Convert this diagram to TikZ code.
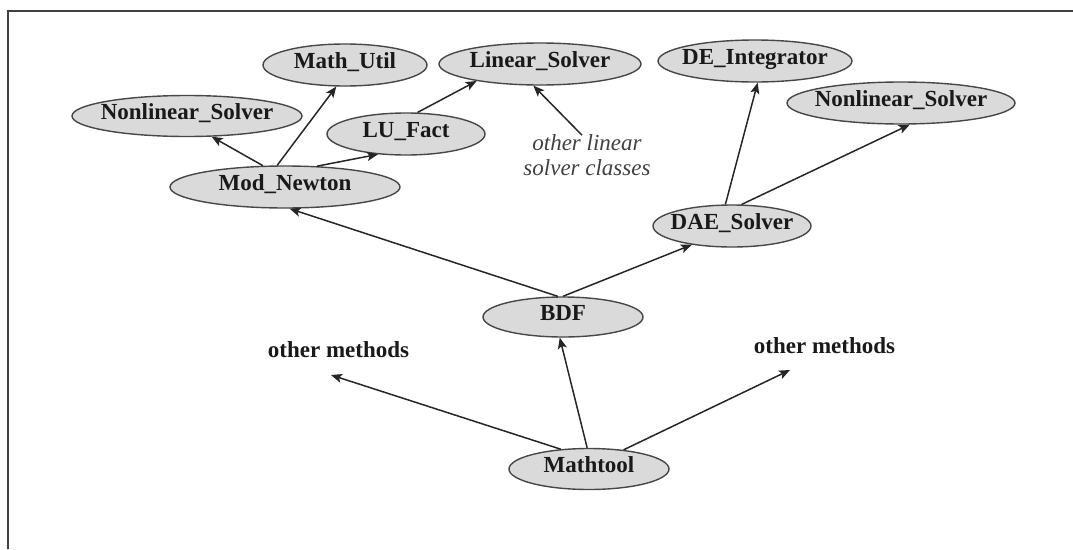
\documentclass[tikz,border=0pt]{standalone}
\usepackage{fontspec}
\setmainfont{Liberation Serif}
\usetikzlibrary{shapes.geometric,arrows.meta,calc}
% class name set in a zero-width box so the ellipse size comes from the style alone
\newcommand\zerowd[1]{\makebox[0pt][c]{#1}}
\definecolor{nodefill}{HTML}{DADADA}
\definecolor{edgecol}{HTML}{262626}
\begin{document}
\begin{tikzpicture}[x=1pt,y=-1pt,
  cls/.style={ellipse, draw=edgecol!85, fill=nodefill, line width=1.4pt, inner sep=0pt,
    text height=16pt, text depth=9pt, text=black!90,
    font=\bfseries\fontsize{23}{25}\selectfont},
  lbl/.style={font=\bfseries\fontsize{23}{25}\selectfont, inner sep=0pt, text=black!90},
  note/.style={font=\itshape\fontsize{23}{25}\selectfont, align=center, text=black!75, inner sep=0pt},
  link/.style={draw=edgecol, line width=1.5pt, -{Stealth[length=11pt,width=9pt,inset=2.5pt]}},
]
\useasboundingbox (0,0) rectangle (1073,549);
% frame
\draw[line width=2pt, draw=black!75] (8,549) -- (8,11) -- (1073,11);

% classes
\node[cls, minimum width=230pt, minimum height=41pt] (nlsL)  at (187,116) {\zerowd{Nonlinear\_Solver}};
\node[cls, minimum width=164pt, minimum height=42pt] (mutil) at (345,65)  {\zerowd{Math\_Util}};
\node[cls, minimum width=158pt, minimum height=42pt] (lu)    at (406,134) {\zerowd{LU\_Fact}};
\node[cls, minimum width=202pt, minimum height=42pt] (lins)  at (540,64)  {\zerowd{Linear\_Solver}};
\node[cls, minimum width=230pt, minimum height=42pt] (modn)  at (285,187) {\zerowd{Mod\_Newton}};
\node[cls, minimum width=194pt, minimum height=42pt] (dei)   at (755,61)  {\zerowd{DE\_Integrator}};
\node[cls, minimum width=228pt, minimum height=42pt] (nlsR)  at (901,103) {\zerowd{Nonlinear\_Solver}};
\node[cls, minimum width=158pt, minimum height=42pt] (dae)   at (732,226) {\zerowd{DAE\_Solver}};
\node[cls, minimum width=160pt, minimum height=40pt] (bdf)   at (563,317) {\zerowd{BDF}};
\node[cls, minimum width=160pt, minimum height=41pt] (mtool) at (589,469) {\zerowd{Mathtool}};

% free labels
\node[note] (note) at (587,155) {other linear\\solver classes};
\node[lbl, anchor=base] (omL) at (338.5,357) {other methods};
\node[lbl, anchor=base] (omR) at (824.5,353) {other methods};
\coordinate (omLtip) at (331,375);
\coordinate (omRtip) at (790,370);

% connectors
\draw[link] (modn.136.5) -- (nlsL.-40);
\draw[link] (modn.110)   -- (mutil.248.6);
\draw[link] (modn.33.7)  -- (lu.216.9);
\draw[link] (lu.62.4)    -- (lins.195);
\draw[link] ($(note.north)+(-5,1)$) -- (lins.253);
\draw[link] (dae.107.5)  -- (dei.277.8);
\draw[link] (dae.66.5)   -- (nlsR.292.2);
\draw[link] (bdf.104)    -- (modn.282.3);
\draw[link] (bdf.90)     -- (dae.205.4);
\draw[link] (mtool.95.4) -- (bdf.261);
\draw[link] (mtool.145.9) -- (omLtip);
\draw[link] (mtool.29)   -- (omRtip);
\end{tikzpicture}
\end{document}
